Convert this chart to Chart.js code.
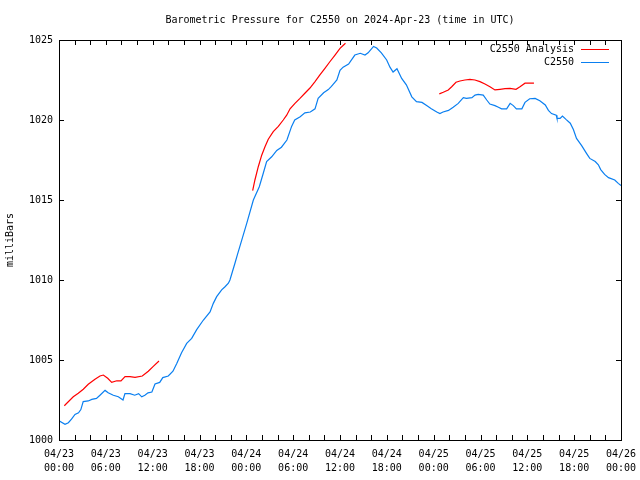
<!DOCTYPE html>
<html>
<head>
<meta charset="utf-8">
<script src="https://cdn.jsdelivr.net/npm/chart.js@4.4.0/dist/chart.umd.min.js"></script>
<style>
  html, body { margin: 0; padding: 0; background: #fff; }
  canvas { display: block; }
</style>
</head>
<body>
<canvas id="grafica" width="640" height="480"></canvas>
<script>
// horas desde 2024-04-23 00:00 UTC
const stationHours = [
    0, 0.77, 1.2, 1.6, 2.05, 2.5, 2.8, 3.1, 3.75, 4.2, 4.8, 5.25, 5.9, 6.3, 6.96, 7.6,
    8.2, 8.45, 9.1, 9.7, 10.2, 10.6, 11, 11.4, 11.9, 12.3, 12.9, 13.3, 14, 14.6, 15.1, 15.7,
    16.36, 17, 17.64, 18.5, 19.35, 19.77, 20.2, 20.84, 21.27, 21.7, 21.9, 22.55, 22.84, 24.05,
    24.9, 25.66, 26.17, 26.6, 27.25, 27.9, 28.5, 29.2, 29.8, 30.2, 30.9, 31.5, 32.2, 32.8,
    33.2, 33.9, 34.5, 34.9, 35.6, 36, 36.4, 37.1, 37.9, 38.6, 39.2, 39.6, 40.3, 40.7, 41.3,
    41.98, 42.4, 42.8, 43.3, 43.9, 44.5, 45.2, 45.8, 46.5, 47.1, 47.7, 48.4, 48.8, 49.2,
    49.9, 50.5, 51.15, 51.8, 52.2, 52.9, 53.3, 53.7, 54.35, 54.8, 55.2, 55.85, 56.3, 56.7,
    57.35, 57.8, 58.2, 58.6, 59.3, 59.7, 60.3, 61, 61.6, 62.3, 62.7, 63.1, 63.7, 63.8, 64.2,
    64.5, 64.95, 65.5, 65.9, 66.3, 66.96, 67.6, 68, 68.7, 69.1, 69.4, 69.9, 70.4, 71.2, 71.65, 72
];
const stationPressure = [
    1001.2, 1000.98, 1001.08, 1001.3, 1001.6, 1001.7, 1001.9, 1002.4, 1002.44, 1002.54, 1002.6, 1002.8, 1003.1, 1002.95, 1002.8, 1002.7,
    1002.5, 1002.9, 1002.9, 1002.8, 1002.9, 1002.7, 1002.8, 1002.95, 1003.0, 1003.5, 1003.6, 1003.9, 1004.0, 1004.3, 1004.8, 1005.45,
    1006.04, 1006.35, 1006.9, 1007.5, 1008.0, 1008.54, 1008.96, 1009.38, 1009.58, 1009.8, 1010.0, 1011.06, 1011.56, 1013.54,
    1015.0, 1015.83, 1016.67, 1017.4, 1017.7, 1018.1, 1018.3, 1018.75, 1019.6, 1020.0, 1020.2, 1020.45, 1020.5, 1020.7,
    1021.35, 1021.7, 1021.9, 1022.1, 1022.5, 1023.1, 1023.3, 1023.5, 1024.06, 1024.17, 1024.06, 1024.2, 1024.6, 1024.5, 1024.2,
    1023.75, 1023.3, 1023.0, 1023.2, 1022.6, 1022.2, 1021.45, 1021.15, 1021.1, 1020.9, 1020.7, 1020.5, 1020.4, 1020.5,
    1020.6, 1020.8, 1021.04, 1021.4, 1021.35, 1021.4, 1021.56, 1021.6, 1021.56, 1021.25, 1021.0, 1020.9, 1020.8, 1020.7,
    1020.7, 1021.04, 1020.9, 1020.7, 1020.7, 1021.1, 1021.33, 1021.35, 1021.2, 1020.94, 1020.6, 1020.4, 1020.3, 1020.1, 1020.1,
    1020.25, 1020.04, 1019.8, 1019.4, 1018.85, 1018.4, 1017.9, 1017.6, 1017.4, 1017.2, 1016.9, 1016.6, 1016.4, 1016.25, 1016.04, 1015.9
];

// analisis: tres tramos, separados por null
const analysisHours = [
    0.68, 1.19, 1.83, 2.47, 3.11, 3.75, 4.61, 5.25, 5.68, 6.24, 6.75, 7.4, 7.94, 8.46, 9.1, 9.74, 10.67, 11.44, 12.08, 12.81,
    18,
    24.81, 25.1, 25.53, 25.97, 26.39, 26.81, 27.45, 28.1, 28.73, 29.17, 29.6, 30.23, 30.87, 31.5, 32.15, 32.8, 33.4, 34.07, 34.7, 35.36, 36, 36.7,
    42,
    48.72, 49.23, 49.87, 50.31, 50.86, 51.37, 52, 52.65, 53.29, 53.93, 54.57, 55.21, 55.85, 56.5, 57.14, 57.78, 58.55, 59.06, 59.7, 60.34, 60.85
];
const analysisPressure = [
    1002.14, 1002.39, 1002.7, 1002.92, 1003.17, 1003.48, 1003.8, 1004.0, 1004.06, 1003.86, 1003.6, 1003.7, 1003.7, 1003.96, 1003.96, 1003.92, 1004.0, 1004.3, 1004.6, 1004.94,
    null,
    1015.58, 1016.25, 1017.08, 1017.8, 1018.33, 1018.8, 1019.27, 1019.6, 1020.0, 1020.3, 1020.7, 1021.04, 1021.35, 1021.67, 1022.0, 1022.4, 1022.8, 1023.23, 1023.64, 1024.06, 1024.48, 1024.8,
    null,
    1021.63, 1021.73, 1021.88, 1022.08, 1022.36, 1022.44, 1022.5, 1022.54, 1022.5, 1022.4, 1022.25, 1022.08, 1021.88, 1021.92, 1021.96, 1021.98, 1021.92, 1022.08, 1022.3, 1022.3, 1022.3
];

// etiquetas cada 6 horas
const xTickLabels = [
    ['04/23', '00:00'], ['04/23', '06:00'], ['04/23', '12:00'], ['04/23', '18:00'],
    ['04/24', '00:00'], ['04/24', '06:00'], ['04/24', '12:00'], ['04/24', '18:00'],
    ['04/25', '00:00'], ['04/25', '06:00'], ['04/25', '12:00'], ['04/25', '18:00'],
    ['04/26', '00:00']
];

const fuente = '"DejaVu Sans Mono", "Liberation Mono", monospace';

function juntar(horas, valores) {
    return horas.map((h, i) => ({ x: h, y: valores[i] }));
}

// marco y marcas hacia dentro, como gnuplot
const marcoPlugin = {
    id: 'marco',
    afterDraw(chart) {
        const ctx = chart.ctx;
        const a = chart.chartArea;
        const xs = chart.scales.x;
        const ys = chart.scales.y;
        const largo = 5;
        ctx.save();
        ctx.strokeStyle = '#000';
        ctx.lineWidth = 1;
        ctx.beginPath();
        xs.ticks.forEach(t => {
            const px = Math.round(xs.getPixelForValue(t.value)) + 0.5;
            ctx.moveTo(px, a.bottom);
            ctx.lineTo(px, a.bottom - largo);
            ctx.moveTo(px, a.top);
            ctx.lineTo(px, a.top + largo);
        });
        ys.ticks.forEach(t => {
            const py = Math.round(ys.getPixelForValue(t.value)) + 0.5;
            ctx.moveTo(a.left, py);
            ctx.lineTo(a.left + largo, py);
            ctx.moveTo(a.right, py);
            ctx.lineTo(a.right - largo, py);
        });
        ctx.stroke();
        ctx.strokeRect(Math.round(a.left) + 0.5, Math.round(a.top) + 0.5,
            Math.round(a.right - a.left), Math.round(a.bottom - a.top));

        // leyenda: texto a la derecha y muestra de linea
        ctx.font = '10px ' + fuente;
        ctx.textAlign = 'right';
        ctx.textBaseline = 'middle';
        chart.data.datasets.forEach((ds, i) => {
            const y = a.top + 9.5 + i * 13;
            ctx.fillStyle = '#000';
            ctx.fillText(ds.label, a.right - 47, y);
            ctx.strokeStyle = ds.borderColor;
            ctx.beginPath();
            ctx.moveTo(a.right - 40, y);
            ctx.lineTo(a.right - 12, y);
            ctx.stroke();
        });
        ctx.restore();
    }
};

function crearGrafica() {
    const ctx = document.getElementById('grafica').getContext('2d');
    new Chart(ctx, {
        type: 'line',
        data: {
            datasets: [{
                label: 'C2550 Analysis',
                data: juntar(analysisHours, analysisPressure),
                borderColor: '#ff0000',
                borderWidth: 1.2,
                pointRadius: 0,
                tension: 0,
                spanGaps: false
            }, {
                label: 'C2550',
                data: juntar(stationHours, stationPressure),
                borderColor: '#0a7ff0',
                borderWidth: 1.2,
                pointRadius: 0,
                tension: 0
            }]
        },
        options: {
            responsive: false,
            animation: false,
            devicePixelRatio: 1,
            layout: { padding: { left: 0, right: 19, top: 0, bottom: 0 } },
            plugins: {
                legend: { display: false },
                tooltip: { enabled: false },
                title: {
                    display: true,
                    text: 'Barometric Pressure for C2550 on 2024-Apr-23 (time in UTC)',
                    color: '#000',
                    fullSize: false,
                    font: { family: fuente, size: 10, weight: 'normal', lineHeight: 1.2 },
                    padding: { top: 14, bottom: 14 }
                }
            },
            scales: {
                x: {
                    type: 'linear',
                    min: 0,
                    max: 72,
                    grid: { display: false, drawTicks: false },
                    border: { display: false },
                    ticks: {
                        stepSize: 2,
                        autoSkip: false,
                        maxRotation: 0,
                        padding: 7,
                        color: '#000',
                        font: { family: fuente, size: 10, lineHeight: 1.4 },
                        callback: function(v) {
                            return v % 6 === 0 ? xTickLabels[v / 6] : '';
                        }
                    },
                    afterFit: function(scale) {
                        scale.height = 40;
                        scale.paddingLeft = 0;
                        scale.paddingRight = 0;
                    }
                },
                y: {
                    min: 1000,
                    max: 1025,
                    grid: { display: false, drawTicks: false },
                    border: { display: false },
                    title: {
                        display: true,
                        text: 'milliBars',
                        color: '#000',
                        font: { family: fuente, size: 10, lineHeight: 1.2 },
                        padding: { top: 4, bottom: 0 }
                    },
                    ticks: {
                        stepSize: 5,
                        padding: 6,
                        color: '#000',
                        font: { family: fuente, size: 10 },
                        callback: function(v) { return String(v); }
                    },
                    afterFit: function(scale) {
                        scale.width = 59;
                        scale.paddingTop = 0;
                        scale.paddingBottom = 0;
                    }
                }
            }
        },
        plugins: [marcoPlugin]
    });
}

window.addEventListener('load', crearGrafica);
</script>
</body>
</html>
